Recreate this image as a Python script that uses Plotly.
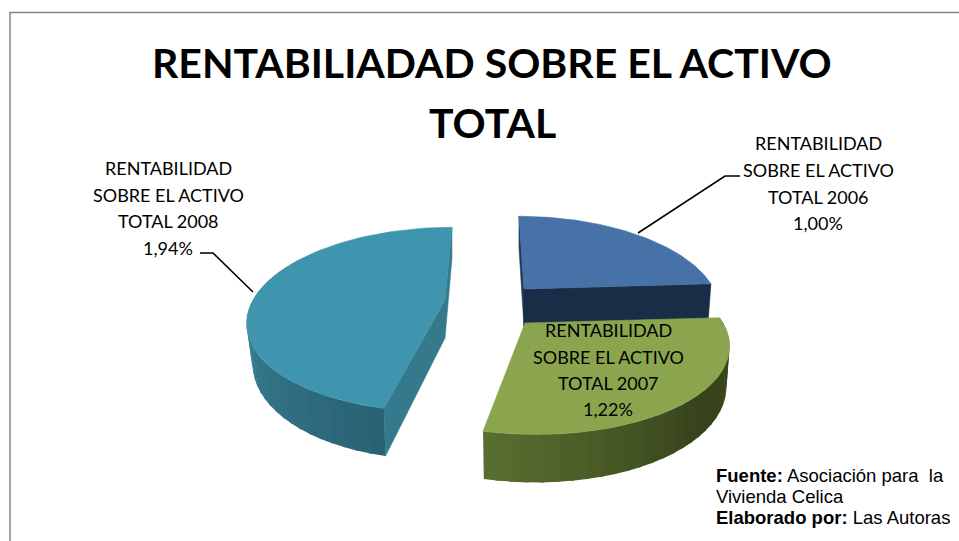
import math
import plotly.graph_objects as go

# ---- data
TITLE = ["RENTABILIADAD SOBRE EL ACTIVO", "TOTAL"]
years = ["2006", "2007", "2008"]
values = [1.00, 1.22, 1.94]
series_name = ["RENTABILIDAD", "SOBRE EL ACTIVO", "TOTAL"]
source = [("<b>Fuente:</b> Asociación para  la", 475), ("Vivienda Celica", 496),
          ("<b>Elaborado por:</b> Las Autoras", 517)]

# ---- styling / 3D-look projection parameters (pixel scale of the canvas)
W, H = 959, 541
K, RY, DEPTH = 0.21, 88, 38
slices = [
    dict(px=495, cx=524, cy=289, rx=190, b=0.985, top="#4672A8", wall0="#1A2D47", wall1="#1A2D47", cut="#1F3A5C"),
    dict(px=485, cx=525, cy=323, rx=198, b=0.985, top="#8BA54E", wall0="#5A7030", wall1="#38441C", cut=None),
    dict(px=485, cx=445, cy=300, rx=192, b=0.97, top="#4095AE", wall0="#4093AB", wall1="#2A6273", cut="#347A8C"),
]
label_pos = [(818, [143, 170, 197, 223]), (608, [330, 357, 383, 409]), (168, [168, 195, 221, 248])]
leaders = [([638, 725, 740], [233, 176, 176]), None, ([253, 213, 200], [292, 253, 253])]


def proj(s, theta, bottom=False):
    t = math.radians(theta)
    d = 1 + K * math.cos(t)
    rx = s["rx"] * (s["b"] if bottom else 1)
    x = s["px"] + (s["cx"] - s["px"] + rx * math.sin(t)) / d
    y = s["cy"] - RY * math.cos(t) / d + (DEPTH / d if bottom else 0)
    return x, y


def apex(s, bottom=False):
    return (s["cx"], s["cy"] + (DEPTH if bottom else 0))


def mix(c0, c1, f):
    a = [int(c0[i:i + 2], 16) for i in (1, 3, 5)]
    b = [int(c1[i:i + 2], 16) for i in (1, 3, 5)]
    return "#%02X%02X%02X" % tuple(round(p + (q - p) * f) for p, q in zip(a, b))


def poly(fig, pts, color, lw=0.6):
    xs = [p[0] for p in pts] + [pts[0][0]]
    ys = [p[1] for p in pts] + [pts[0][1]]
    fig.add_trace(go.Scatter(x=xs, y=ys, mode="lines", fill="toself", fillcolor=color,
                             line=dict(color=color, width=lw), hoverinfo="skip", showlegend=False))


fig = go.Figure()
total = sum(values)
spans, acc = [], 0.0
for v in values:
    spans.append((acc, acc + 360 * v / total))
    acc += 360 * v / total


def arc(s, a, b, bottom=False, n=90):
    return [proj(s, a + (b - a) * i / n, bottom) for i in range(n + 1)]


for idx in (2, 0, 1):
    s = slices[idx]
    a, b = spans[idx]
    if idx == 2:
        # cut faces, visible on the right of the wedge
        poly(fig, [proj(s, b), apex(s), proj(s, a), proj(s, a, True), apex(s, True), proj(s, b, True)], s["cut"])
        wa, wb = a, 300
    elif idx == 0:
        poly(fig, [proj(s, a), apex(s), apex(s, True), proj(s, a, True)], s["cut"])
        poly(fig, [apex(s), proj(s, b), proj(s, b, True), apex(s, True)], s["wall0"])
        wa, wb = None, None
    else:
        wa, wb = a, b
    if wa is not None:
        # outer wall as shaded strips, running left to right on the page
        n = 30
        for i in range(n):
            t0 = wa + (wb - wa) * i / n
            t1 = wa + (wb - wa) * (i + 1) / n
            if idx == 1:
                f = min(1.0, (1 - i / n) / 0.55)
            else:
                f = 1 - i / n
            over = 0.8 if i < n - 1 else 0
            poly(fig, [proj(s, t0), proj(s, t1 + over), proj(s, t1 + over, True), proj(s, t0, True)],
                 mix(s["wall0"], s["wall1"], f), lw=0)
    poly(fig, [apex(s)] + arc(s, a, b), s["top"])

for ld in leaders:
    if ld:
        fig.add_trace(go.Scatter(x=ld[0], y=ld[1], mode="lines", line=dict(color="#000000", width=1.6),
                                 hoverinfo="skip", showlegend=False))

ann = []
for txt, y in zip(TITLE, (62, 122)):
    ann.append(dict(x=492, y=y, text="<b>%s</b>" % txt, font=dict(family="Lato", size=41, color="#000000")))
for yr, v, (x, ys) in zip(years, values, label_pos):
    lines = series_name[:2] + ["%s %s" % (series_name[2], yr), ("%.2f%%" % v).replace(".", ",")]
    for ln, y in zip(lines, ys):
        ann.append(dict(x=x, y=y, text=ln, font=dict(family="Lato", size=18, color="#000000")))
for txt, y in source:
    ann.append(dict(x=714, y=y, text=txt, xanchor="left", font=dict(family="Liberation Sans", size=18.5, color="#000000")))
for a in ann:
    a.update(xref="x", yref="y", showarrow=False, yanchor="middle")
    a.setdefault("xanchor", "center")

fig.update_layout(
    width=W, height=H, margin=dict(l=0, r=0, t=0, b=0), paper_bgcolor="#FFFFFF", plot_bgcolor="#FFFFFF",
    showlegend=False, annotations=ann,
    xaxis=dict(range=[0, W], visible=False, fixedrange=True),
    yaxis=dict(range=[H, 0], visible=False, fixedrange=True),
    shapes=[dict(type="path", path="M 10 541 L 10 12.5 L 959 12.5", xref="x", yref="y",
                 line=dict(color="#868686", width=1.5))],
)
fig.write_html("out.html", config=dict(displayModeBar=False),
               post_script="document.body.style.margin='0';document.body.style.overflow='hidden';")
